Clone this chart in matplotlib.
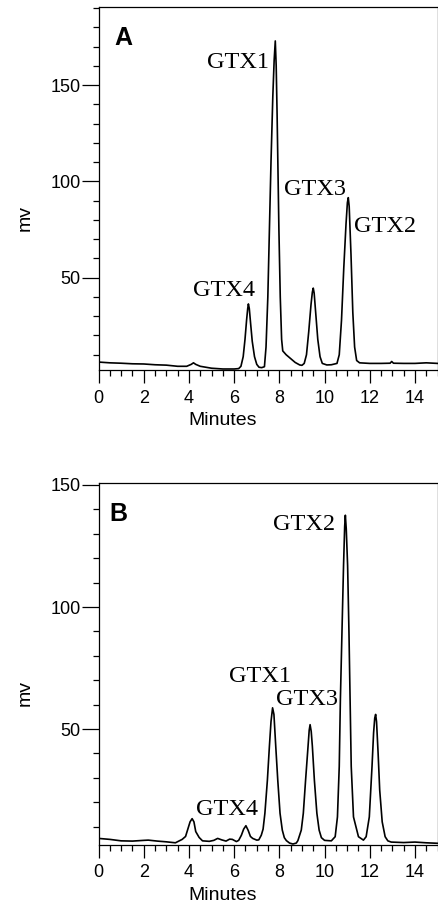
import matplotlib
matplotlib.use("Agg")
import matplotlib.pyplot as plt
from matplotlib.ticker import MultipleLocator

# ---------------------------------------------------------------------------
# Traces (minutes, mV)
# ---------------------------------------------------------------------------

time_a = [0.0, 0.5, 1.0, 1.5, 2.0, 2.5, 3.0, 3.5, 3.9, 4.1, 4.2, 4.3, 4.5,
          5.0, 5.5, 6.0, 6.2,
          6.3, 6.4, 6.48, 6.55, 6.6, 6.63, 6.67, 6.73, 6.8, 6.9, 7.0, 7.1,
          7.22, 7.34,
          7.41, 7.49, 7.56, 7.63, 7.71, 7.77, 7.82, 7.86, 7.9, 7.94, 7.98,
          8.04, 8.1, 8.15, 8.3, 8.5, 8.7, 8.9, 9.0,
          9.1, 9.2, 9.3, 9.4, 9.46, 9.5, 9.54, 9.62, 9.7, 9.8, 9.9, 10.1,
          10.3,
          10.55, 10.65, 10.75, 10.85, 10.95, 11.01, 11.05, 11.09, 11.17,
          11.25, 11.33, 11.42, 11.55, 12.0, 12.5, 12.9, 12.97, 13.05,
          13.5, 14.0, 14.5, 15.0]
mv_a = [6.2, 5.8, 5.6, 5.3, 5.2, 4.8, 4.6, 4.0, 4.0, 5.0, 5.8, 5.0, 4.0,
        3.0, 2.6, 2.6, 2.8,
        4.0, 9.0, 18.0, 28.0, 34.0, 36.4, 34.0, 26.0, 17.0, 9.0, 5.0, 3.5,
        3.3, 3.8,
        14.0, 40.0, 75.0, 110.0, 144.0, 163.0, 173.0, 160.0, 135.0, 105.0,
        75.0, 40.0, 18.0, 12.0, 10.0, 8.0, 6.0, 4.7, 4.5,
        5.5, 10.0, 22.0, 36.0, 42.5, 44.6, 42.0, 30.0, 18.0, 9.0, 5.5, 4.7,
        4.8,
        5.5, 10.0, 28.0, 55.0, 78.0, 89.0, 91.6, 87.0, 62.0,
        32.0, 14.0, 7.0, 5.8, 5.5, 5.5, 5.6, 6.5, 5.6,
        5.5, 5.5, 5.8, 5.5]

time_b = [0.0, 0.5, 1.0, 1.5, 2.0, 2.2, 2.6, 3.0, 3.4, 3.7, 3.85,
          3.95, 4.05, 4.14, 4.22, 4.3, 4.45, 4.6, 4.9, 5.1, 5.27, 5.45,
          5.64, 5.8, 5.92, 6.1, 6.2,
          6.32, 6.42, 6.52, 6.62, 6.72, 6.82, 7.0,
          7.09, 7.2, 7.28, 7.36, 7.47, 7.56, 7.63, 7.7, 7.76, 7.84, 7.93,
          8.03, 8.13, 8.22, 8.31, 8.45, 8.6, 8.75,
          8.82, 8.97, 9.06, 9.16, 9.27, 9.32, 9.36, 9.41, 9.46, 9.55, 9.66,
          9.76, 9.86, 10.0, 10.3,
          10.47, 10.57, 10.65, 10.7, 10.77, 10.84, 10.89, 10.92, 10.96,
          11.02, 11.08, 11.13, 11.18, 11.28, 11.5, 11.72,
          11.84, 11.98, 12.1, 12.17, 12.22, 12.26, 12.3, 12.37, 12.44,
          12.55, 12.68, 12.8, 12.95, 13.5, 14.0, 14.5, 15.0]
mv_b = [5.2, 4.8, 4.2, 4.1, 4.4, 4.5, 4.1, 3.8, 3.4, 4.8, 6.0,
        9.0, 12.0, 13.3, 12.0, 8.0, 5.6, 4.2, 4.0, 4.4, 5.2, 4.6,
        4.1, 4.9, 4.8, 3.9, 4.4,
        6.5, 9.0, 10.4, 8.5, 6.0, 5.2, 4.5,
        4.6, 6.5, 9.0, 15.5, 29.0, 43.0, 53.0, 58.7, 56.0, 43.0, 29.0,
        15.5, 8.6, 5.5, 4.3, 3.3, 2.9, 3.3,
        4.3, 8.6, 15.5, 29.0, 43.0, 49.5, 51.8, 49.0, 43.0, 29.0, 15.5,
        8.6, 5.5, 4.4, 4.2,
        5.9, 14.0, 34.7, 62.0, 89.6, 117.0, 133.0, 137.6, 132.0,
        117.0, 89.6, 62.0, 34.7, 14.0, 5.9, 4.5,
        5.9, 14.0, 34.7, 48.5, 54.5, 56.0, 53.0, 40.0, 25.0,
        12.0, 5.9, 4.2, 3.7, 3.5, 3.7, 3.4, 3.2]

peak_names = ["GTX4", "GTX1", "GTX3", "GTX2"]
panel_letters = ["A", "B"]
x_ticks = [0, 2, 4, 6, 8, 10, 12, 14]
y_ticks = [50, 100, 150]

# label anchor points (left, baseline) in data coords for each panel
label_pos_a = [(4.18, 40.5), (4.82, 159.0), (8.19, 93.0), (11.32, 73.8)]
label_pos_b = [(4.31, 14.8), (5.78, 69.4), (7.87, 59.7), (7.72, 131.4)]

plt.rcParams["font.family"] = ["Liberation Sans", "DejaVu Sans"]

fig = plt.figure(figsize=(4.38, 9.05), dpi=100)
ax_a = fig.add_axes([0.225, 0.591, 0.774, 0.401])
ax_b = fig.add_axes([0.225, 0.0663, 0.774, 0.400])

panels = [
    (ax_a, time_a, mv_a, (2.0, 190.5), label_pos_a, (0.70, 181.0)),
    (ax_b, time_b, mv_b, (2.5, 150.8), label_pos_b, (0.48, 143.0)),
]

for i, (ax, t, v, ylim, lpos, letter_pos) in enumerate(panels):
    ax.plot(t, v, color="black", linewidth=1.2)
    ax.set_xlim(0, 15)
    ax.set_ylim(*ylim)
    ax.set_xticks(x_ticks)
    ax.set_yticks(y_ticks)
    ax.xaxis.set_minor_locator(MultipleLocator(0.5))
    ax.yaxis.set_minor_locator(MultipleLocator(10))
    ax.tick_params(axis="x", which="major", direction="out", length=9,
                   width=0.9, pad=5, labelsize=13)
    ax.tick_params(axis="x", which="minor", direction="out", length=4.5,
                   width=0.9)
    ax.tick_params(axis="y", which="major", direction="out", length=12,
                   width=0.9, pad=1, labelsize=13)
    ax.tick_params(axis="y", which="minor", direction="out", length=4,
                   width=0.9)
    for sp in ax.spines.values():
        sp.set_linewidth(0.9)
    ax.set_xlabel("Minutes", fontsize=14)
    ax.set_ylabel("mv", fontsize=14)
    ax.xaxis.set_label_coords(0.367, -0.116)
    ax.yaxis.set_label_coords(-0.19, 0.42)

    for name, (x, y) in zip(peak_names, lpos):
        ax.text(x, y, name, fontsize=17.5, family=["Liberation Serif"],
                ha="left", va="baseline")
    ax.text(letter_pos[0], letter_pos[1], panel_letters[i], fontsize=18,
            fontweight="bold", ha="left", va="top")

fig.savefig("out.png", dpi=100)
